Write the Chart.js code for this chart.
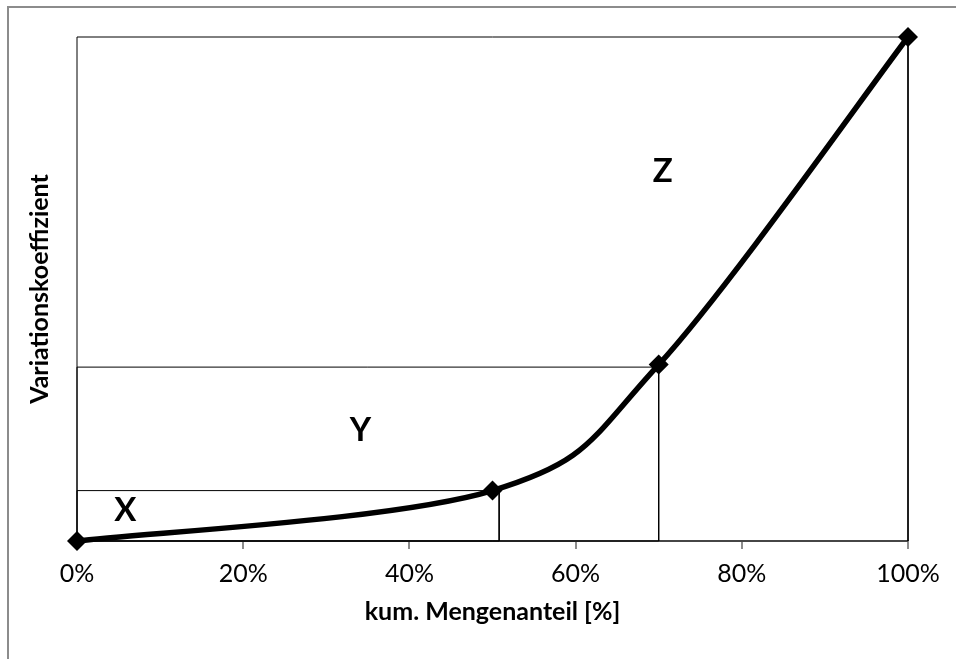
<!DOCTYPE html>
<html>
<head>
<meta charset="utf-8">
<script src="https://cdn.jsdelivr.net/npm/chart.js@4"></script>
<style>
  html, body { margin: 0; padding: 0; background: #fff; }
  #chart { display: block; }
</style>
</head>
<body>
<canvas id="chart" width="956" height="659"></canvas>
<script>
// XYZ curve: cumulative quantity share [%] vs. coefficient of variation
var curveX = [0, 50, 70, 100];
var curveY = [0, 0.1, 0.35, 1];

// zone boxes as closed outlines (x in %, y relative)
var boxXx = [0, 0, 50.8, 50.8, 0];
var boxXy = [0, 0.1, 0.1, 0, 0];
var boxYx = [0, 0, 70, 70, 0];
var boxYy = [0, 0.345, 0.345, 0, 0];
var boxZx = [0, 0, 100, 100, 0];
var boxZy = [0, 1, 1, 0, 0];

// zone letters and where they sit
var zoneNames = ["X", "Y", "Z"];
var zoneNameX = [5.8, 34.1, 70.5];
var zoneNameY = [0.06, 0.22, 0.733];

var xTicks = [0, 20, 40, 60, 80, 100];

function pts(xs, ys) {
	return xs.map(function(x, i) { return { x: x, y: ys[i] }; });
}

function dist(a, b) {
	return Math.sqrt((a.x - b.x) * (a.x - b.x) + (a.y - b.y) * (a.y - b.y));
}

// white page with the grey frame on the left and top
var frame = {
	id: 'frame',
	beforeDraw: function(chart) {
		var c = chart.ctx;
		c.save();
		c.fillStyle = '#fff';
		c.fillRect(0, 0, chart.width, chart.height);
		c.strokeStyle = '#8c8c8c';
		c.lineWidth = 2;
		c.beginPath();
		c.moveTo(8, chart.height);
		c.lineTo(8, 7);
		c.lineTo(chart.width, 7);
		c.stroke();
		c.restore();
	}
};

// Excel style smoothing (1/6 of the neighbour chord, unweighted)
var excelSmooth = {
	id: 'excelSmooth',
	beforeDatasetDraw: function(chart, args) {
		if (args.index !== 0) return;
		var line = args.meta.dataset;
		line.updateControlPoints(chart.chartArea, 'x');
		var p = args.meta.data;
		for (var i = 0; i < p.length - 1; i++) {
			var p0 = p[i - 1] || p[i], p1 = p[i], p2 = p[i + 1], p3 = p[i + 2] || p[i + 1];
			var d12 = dist(p1, p2);
			var f0 = Math.min(1 / 6, d12 / (2 * dist(p0, p2)));
			var f1 = Math.min(1 / 6, d12 / (2 * dist(p1, p3)));
			p1.cp2x = p1.x + f0 * (p2.x - p0.x);
			p1.cp2y = p1.y + f0 * (p2.y - p0.y);
			p2.cp1x = p2.x - f1 * (p3.x - p1.x);
			p2.cp1y = p2.y - f1 * (p3.y - p1.y);
		}
		line._path = undefined;
	}
};

// X / Y / Z letters inside the zones
var zoneLabels = {
	id: 'zoneLabels',
	afterDatasetsDraw: function(chart) {
		var c = chart.ctx, sx = chart.scales.x, sy = chart.scales.y;
		c.save();
		c.font = 'bold 33px Lato';
		c.fillStyle = '#000';
		c.textAlign = 'center';
		c.textBaseline = 'middle';
		zoneNames.forEach(function(n, i) {
			c.fillText(n, sx.getPixelForValue(zoneNameX[i]), sy.getPixelForValue(zoneNameY[i]));
		});
		c.restore();
	}
};

var boxStyle = { borderColor: '#000', borderWidth: 1, pointRadius: 0, tension: 0, clip: false };

new Chart(document.getElementById('chart').getContext('2d'), {
	type: 'line',
	data: {
		datasets: [{
			data: pts(curveX, curveY),
			borderColor: '#000',
			borderWidth: 5.5,
			tension: 0.4,
			pointStyle: 'rectRot',
			pointRadius: 10,
			pointBackgroundColor: '#000',
			pointBorderColor: '#000',
			pointBorderWidth: 0,
			clip: false,
			order: 0
		},
		Object.assign({ data: pts(boxXx, boxXy), order: 1 }, boxStyle),
		Object.assign({ data: pts(boxYx, boxYy), order: 2 }, boxStyle),
		Object.assign({ data: pts(boxZx, boxZy), order: 3 }, boxStyle)]
	},
	options: {
		responsive: false,
		animation: false,
		devicePixelRatio: 1,
		events: [],
		layout: { padding: { left: 8, top: 37, right: 48, bottom: 0 } },
		plugins: { legend: { display: false }, tooltip: { enabled: false } },
		scales: {
			x: {
				type: 'linear',
				min: 0,
				max: 100,
				afterBuildTicks: function(s) { s.ticks = xTicks.map(function(v) { return { value: v }; }); },
				afterFit: function(s) { s.height = 118; },
				grid: { drawOnChartArea: false, drawTicks: true, tickLength: 8, color: '#8c8c8c', lineWidth: 2 },
				border: { color: '#8c8c8c', width: 2 },
				ticks: {
					color: '#000',
					font: { family: 'Lato', size: 25 },
					padding: 10,
					maxRotation: 0,
					autoSkip: false,
					callback: function(v) { return v + '%'; }
				},
				title: {
					display: true,
					text: 'kum. Mengenanteil [%]',
					color: '#000',
					font: { family: 'Lato', size: 25, weight: 'bold' },
					padding: { top: 0, bottom: 32 }
				}
			},
			y: {
				min: 0,
				max: 1,
				afterFit: function(s) { s.width = 69; },
				grid: { display: false },
				border: { display: false },
				ticks: { display: false },
				title: {
					display: true,
					text: 'Variationskoeffizient',
					color: '#000',
					font: { family: 'Lato', size: 25, weight: 'bold' },
					padding: { top: 17, bottom: 0 }
				}
			}
		}
	},
	plugins: [frame, excelSmooth, zoneLabels]
});
</script>
</body>
</html>
